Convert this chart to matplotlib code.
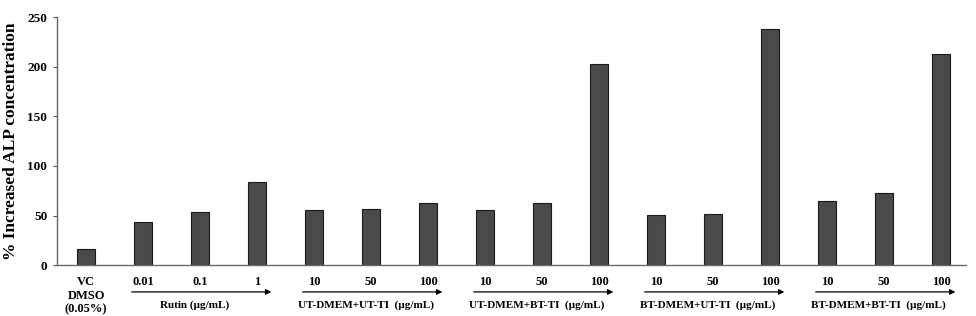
import numpy as np
import matplotlib.pyplot as plt

plt.rcParams['font.family'] = ['Liberation Serif', 'DejaVu Serif']
plt.rcParams['font.weight'] = 'bold'

# Datos
etiquetas = ['VC\nDMSO\n(0.05%)', '0.01', '0.1', '1',
             '10', '50', '100', '10', '50', '100',
             '10', '50', '100', '10', '50', '100']
valores = [16, 43, 54, 84,
           56, 57, 63,
           56, 62.5, 203,
           51, 52, 238,
           65, 73, 213]
grupos = ['Rutin (µg/mL)', 'UT-DMEM+UT-TI  (µg/mL)', 'UT-DMEM+BT-TI  (µg/mL)',
          'BT-DMEM+UT-TI  (µg/mL)', 'BT-DMEM+BT-TI  (µg/mL)']
grupo_inicio = [1, 4, 7, 10, 13]
grupo_fin = [3, 6, 9, 12, 15]
yticks = [0, 50, 100, 150, 200, 250]

fig = plt.figure(figsize=(9.76, 3.16), dpi=100)
ax = fig.add_axes([0.0584, 0.161, 0.9316, 0.785])

x = np.arange(len(valores))
ax.bar(x, valores, width=0.32, color='#4a4a4a', edgecolor='#1a1a1a', linewidth=0.8)

ax.set_xlim(-0.51, 15.44)
ax.set_ylim(0, 250)
ax.set_yticks(yticks)
ax.set_yticklabels([str(v) for v in yticks], fontsize=9.5, fontweight='bold')
ax.set_xticks(x)
ax.set_xticklabels(etiquetas, fontsize=9, fontweight='bold', linespacing=1.15)
ax.tick_params(axis='x', length=0, pad=8)
ax.tick_params(axis='y', length=3, width=0.8, color='#555555', pad=4)

for s in ['top', 'right']:
    ax.spines[s].set_visible(False)
for s in ['left', 'bottom']:
    ax.spines[s].set_color('#666666')
    ax.spines[s].set_linewidth(1.0)

ax.set_ylabel('% Increased ALP concentration', fontsize=12.5, fontweight='bold', labelpad=6)

# Flechas de grupo
trans = ax.get_xaxis_transform()
for nombre, i0, i1 in zip(grupos, grupo_inicio, grupo_fin):
    xa = i0 - 0.2
    xb = i1 + 0.25
    ax.annotate('', xy=(xb, -0.108), xytext=(xa, -0.108), xycoords=trans,
                textcoords=trans, annotation_clip=False,
                arrowprops=dict(arrowstyle='-|>', color='black', lw=0.9,
                                mutation_scale=8, shrinkA=0, shrinkB=0))
    ax.text((xa + xb) / 2 - 0.12, -0.162, nombre, transform=trans, ha='center',
            va='center', fontsize=8, fontweight='bold', clip_on=False)

fig.savefig('out.png', dpi=100)
